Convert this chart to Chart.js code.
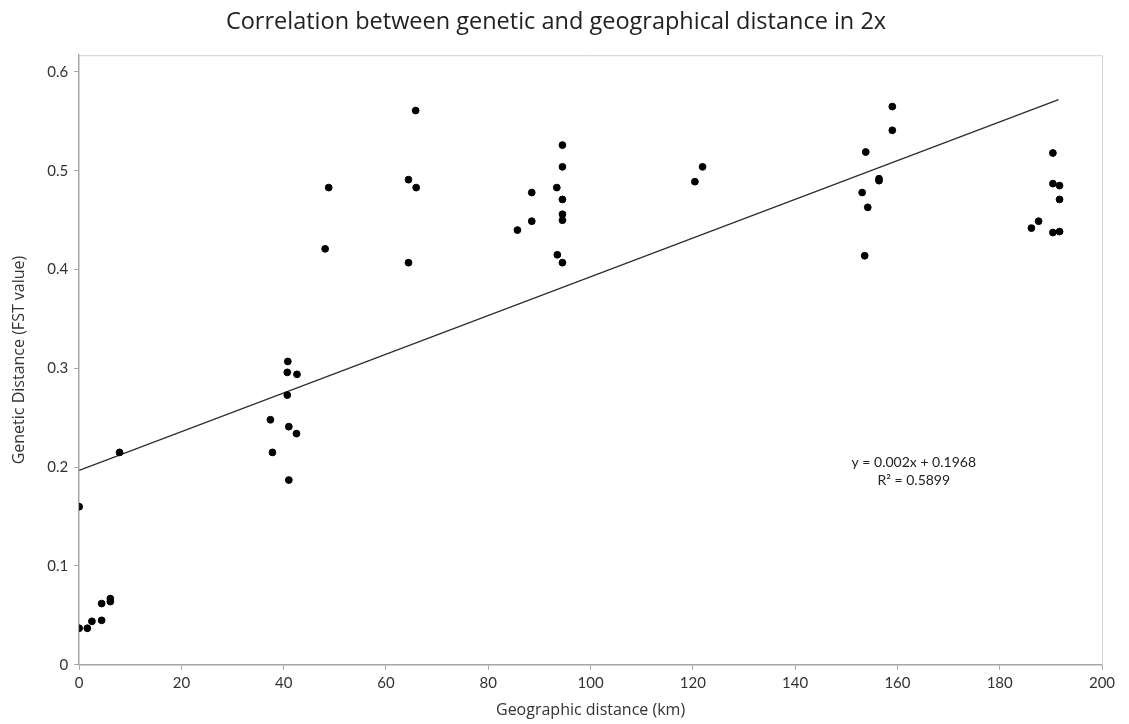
<!DOCTYPE html>
<html>
<head>
<meta charset="utf-8">
<script src="https://cdn.jsdelivr.net/npm/chart.js@4.4.1/dist/chart.umd.min.js"></script>
<style>
  html, body { margin: 0; padding: 0; background: #ffffff; }
  #wrap { width: 1129px; height: 724px; }
</style>
</head>
<body>
<div id="wrap"><canvas id="c" width="1129" height="724"></canvas></div>
<script>
// ---- data ----
const distanceKm = [
  0, 0, 1.6, 2.5, 4.4, 4.4, 6.1, 6.1, 7.9,
  40.8, 40.7, 42.6, 40.7, 37.4, 41.0, 42.5, 37.8, 41.0,
  48.1, 48.8,
  65.8, 64.4, 65.9, 64.4,
  85.7, 88.5, 88.5, 93.4, 94.5, 94.5, 94.5, 94.5, 94.5, 93.5, 94.5,
  120.4, 121.9,
  159.0, 159.0, 153.8, 156.4, 156.4, 153.1, 154.2, 153.6,
  190.4, 190.4, 191.7, 191.7, 187.6, 186.2, 190.4, 191.7
];
const fstValue = [
  0.160, 0.037, 0.037, 0.044, 0.045, 0.062, 0.067, 0.064, 0.215,
  0.307, 0.296, 0.294, 0.273, 0.248, 0.241, 0.234, 0.215, 0.187,
  0.421, 0.483,
  0.561, 0.491, 0.483, 0.407,
  0.440, 0.478, 0.449, 0.483, 0.526, 0.504, 0.471, 0.456, 0.450, 0.415, 0.407,
  0.489, 0.504,
  0.565, 0.541, 0.519, 0.492, 0.490, 0.478, 0.463, 0.414,
  0.518, 0.487, 0.485, 0.471, 0.449, 0.442, 0.4375, 0.4385
];
const trendX = [0, 191.5];
const trendY = [0.1968, 0.572];
const xTicks = [0, 20, 40, 60, 80, 100, 120, 140, 160, 180, 200];
const yTicks = [0, 0.1, 0.2, 0.3, 0.4, 0.5, 0.6];
const equationLines = ['y = 0.002x + 0.1968', 'R\u00B2 = 0.5899'];
const equationAnchor = { x: 163.2, y: 0.205 };

const titleText = 'Correlation between genetic and geographical distance in 2x';
const xTitle = 'Geographic distance (km)';
const yTitle = 'Genetic Distance (FST value)';

const scatterData = distanceKm.map((x, i) => ({ x: x, y: fstValue[i] }));
const trendData = trendX.map((x, i) => ({ x: x, y: trendY[i] }));

const axisGray = '#a6a6a6';

const boxPlugin = {
  id: 'box',
  beforeDatasetsDraw(chart) {
    const { ctx, chartArea: a } = chart;
    ctx.save();
    ctx.strokeStyle = '#d0d0d0';
    ctx.lineWidth = 1;
    ctx.beginPath();
    ctx.moveTo(a.left, a.top + 0.5);
    ctx.lineTo(a.right + 0.5, a.top + 0.5);
    ctx.lineTo(a.right + 0.5, a.bottom);
    ctx.stroke();
    ctx.restore();
  }
};

const equationPlugin = {
  id: 'equation',
  afterDatasetsDraw(chart) {
    const { ctx, scales } = chart;
    const px = scales.x.getPixelForValue(equationAnchor.x);
    const py = scales.y.getPixelForValue(equationAnchor.y);
    ctx.save();
    ctx.fillStyle = '#222';
    ctx.font = '14px Lato, "Open Sans", sans-serif';
    ctx.textAlign = 'center';
    ctx.textBaseline = 'middle';
    ctx.fillText(equationLines[0], px, py);
    ctx.fillText(equationLines[1], px, py + 18);
    ctx.restore();
  }
};

new Chart(document.getElementById('c'), {
  type: 'scatter',
  data: {
    datasets: [
      {
        label: 'Pairs',
        data: scatterData,
        backgroundColor: '#000',
        borderColor: '#000',
        pointRadius: 3.4,
        pointHoverRadius: 3.4,
        order: 1
      },
      {
        label: 'Linear trend',
        type: 'line',
        data: trendData,
        borderColor: '#2b2b2b',
        borderWidth: 1.2,
        pointRadius: 0,
        fill: false,
        order: 2
      }
    ]
  },
  options: {
    responsive: false,
    animation: false,
    devicePixelRatio: 1,
    layout: { padding: { left: 10, right: 27, top: 3, bottom: 4 } },
    plugins: {
      legend: { display: false },
      tooltip: { enabled: false },
      title: {
        display: true,
        text: titleText,
        color: '#222',
        font: { family: '"Open Sans", sans-serif', size: 23.5, weight: 'normal' },
        padding: { top: 5, bottom: 19 }
      }
    },
    scales: {
      x: {
        type: 'linear',
        min: 0,
        max: 200,
        afterBuildTicks(scale) { scale.ticks = xTicks.map(v => ({ value: v })); },
        grid: { display: true, drawOnChartArea: false, color: axisGray, tickLength: 5 },
        border: { display: true, color: axisGray, width: 1.5 },
        ticks: {
          color: '#333',
          font: { family: 'Lato, sans-serif', size: 15 },
          padding: 4,
          maxRotation: 0
        },
        title: {
          display: true,
          text: xTitle,
          color: '#333',
          font: { family: '"Open Sans", sans-serif', size: 16 },
          padding: { top: 5, bottom: 0 }
        }
      },
      y: {
        type: 'linear',
        min: 0,
        max: 0.617,
        afterBuildTicks(scale) { scale.ticks = yTicks.map(v => ({ value: v })); },
        grid: { display: true, drawOnChartArea: false, color: axisGray, tickLength: 5 },
        border: { display: true, color: axisGray, width: 1.5 },
        ticks: {
          color: '#333',
          font: { family: 'Lato, sans-serif', size: 15 },
          padding: 6,
          callback: v => (v === 0 ? '0' : String(Math.round(v * 10) / 10))
        },
        title: {
          display: true,
          text: yTitle,
          color: '#333',
          font: { family: '"Open Sans", sans-serif', size: 16 },
          padding: { top: 0, bottom: 12 }
        }
      }
    }
  },
  plugins: [boxPlugin, equationPlugin]
});
</script>
</body>
</html>
